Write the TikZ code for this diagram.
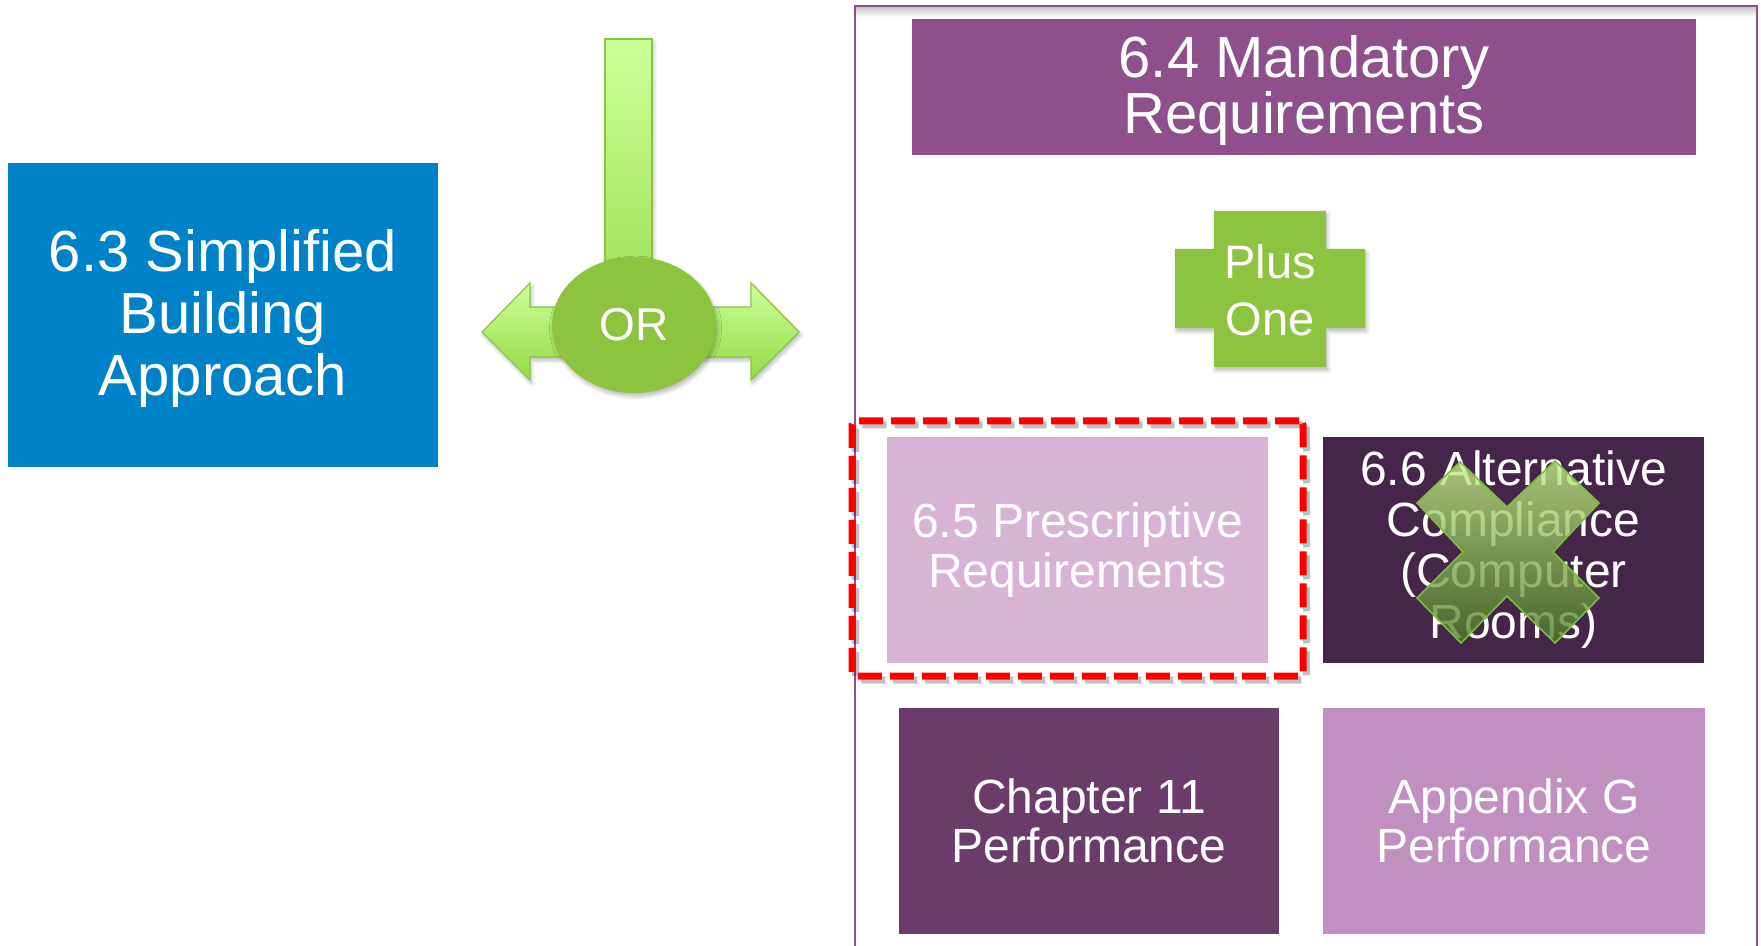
\documentclass[tikz,border=0pt]{standalone}
\usepackage{fontspec}
\setmainfont{Liberation Sans}
\usetikzlibrary{shapes.geometric,shadows.blur}

\definecolor{simpblue}{HTML}{0082C8}
\definecolor{mandpurple}{HTML}{8E4F8C}
\definecolor{presclilac}{HTML}{D7B4D4}
\definecolor{altplum}{HTML}{46254A}
\definecolor{chplum}{HTML}{6B3B69}
\definecolor{appmauve}{HTML}{C290C0}
\definecolor{leaf}{HTML}{8CC43F}
\definecolor{leaflight}{HTML}{CCFF99}
\definecolor{leafmid}{HTML}{94DA45}
\definecolor{leafpale}{HTML}{C4EE88}
\definecolor{leafdark}{HTML}{4A7A24}
\definecolor{leafedge}{HTML}{7DBE3A}
\definecolor{framepurple}{HTML}{8E4F8C}

\begin{document}
\begin{tikzpicture}[x=0.5pt,y=-0.5pt,
  block/.style={rectangle, inner sep=0pt, text=white, align=center},
  softshadow/.style={blur shadow={shadow blur steps=6, shadow xshift=0.8pt,
      shadow yshift=-1.6pt, shadow opacity=28, shadow blur radius=2pt}},
  greenarrow/.style={draw=leaf, line width=0.6pt, top color=leaflight, bottom color=leafmid, softshadow},
  selbox/.style={rectangle, draw=red, line width=3.5pt, dash pattern=on 12pt off 4pt,
      rounded corners=2pt, inner sep=0pt},
  bigtext/.style={font=\fontsize{29}{31}\selectfont},
  midtext/.style={font=\fontsize{24}{25}\selectfont}]

\useasboundingbox (0,0) rectangle (1761,946);

% container for the mandatory path
\shade[top color=black!22, bottom color=white] (856,7) rectangle (1756,17);
\draw[framepurple, line width=1pt] (855,946) -- (855,6) -- (1757,6) -- (1757,946);

% mandatory requirements banner
\node[block, bigtext, font=\fontsize{29}{26.5}\selectfont, fill=mandpurple,
      minimum width=392pt, minimum height=68pt] (mand) at (1304,87)
      {\rule{0pt}{0.85em}6.4 Mandatory\\Requirements};

% "plus one" cross
\path[fill=leaf, softshadow]
  (1214,211) -- (1326,211) -- (1326,249) -- (1365,249) -- (1365,328) -- (1326,328)
  -- (1326,367) -- (1214,367) -- (1214,328) -- (1175,328) -- (1175,249) -- (1214,249) -- cycle;
\node[text=white, align=center, inner sep=0pt, font=\fontsize{23.5}{28.5}\selectfont]
  (plus) at (1270,290) {Plus\\One};

% highlighted prescriptive path
\begin{scope}[xshift=1.8pt, yshift=-2pt]
  \node[selbox, draw=black, opacity=0.25, minimum width=225.5pt, minimum height=127.5pt]
    (selshadow) at (1077.5,548.5) {};
\end{scope}
\node[selbox, minimum width=225.5pt, minimum height=127.5pt] (sel) at (1077.5,548.5) {};

\node[block, midtext, fill=presclilac, minimum width=190.5pt, minimum height=113pt]
  (presc) at (1077.5,550) {6.5 Prescriptive\\Requirements};
\node[block, midtext, font=\fontsize{24}{25.5}\selectfont, fill=altplum,
      minimum width=190.5pt, minimum height=113pt]
  (alt) at (1513.5,550) {6.6 Alternative\\Compliance\\(Computer\\Rooms)};

% cross-out mark over the alternative path
\path[draw=leafedge, line width=0.8pt, top color=leafpale, bottom color=leafdark, fill opacity=0.78]
  (1460,462) -- (1507,507) -- (1555,461) -- (1599,503) -- (1553,552) -- (1599,598)
  -- (1555,643) -- (1507,596) -- (1461,643) -- (1417,598) -- (1463,552) -- (1417,503) -- cycle;

% performance paths
\node[block, midtext, font=\fontsize{24}{24.5}\selectfont, fill=chplum,
      minimum width=190pt, minimum height=113pt]
  (ch11) at (1089,821) {Chapter 11\\Performance};
\node[block, midtext, font=\fontsize{24}{24.5}\selectfont, fill=appmauve,
      minimum width=191pt, minimum height=113pt]
  (appg) at (1514,821) {Appendix G\\Performance};

% simplified approach
\node[block, bigtext, fill=simpblue, minimum width=215pt, minimum height=152pt]
  (simp) at (223,315) {\rule{0pt}{0.83em}6.3 Simplified\\Building\\Approach};

% "or" branching arrow
\path[greenarrow, bottom color=leafmid!80!leaflight] (605,39) rectangle (652,300);
\path[greenarrow]
  (482,332) -- (530,283) -- (530,307) -- (751,307) -- (751,283) -- (799,332)
  -- (751,380) -- (751,357) -- (530,357) -- (530,380) -- cycle;
\node[ellipse, fill=leaf, minimum width=82pt, minimum height=68pt, inner sep=0pt,
      text=white, font=\fontsize{23}{23}\selectfont, softshadow]
  (or) at (634,325) {OR};

\end{tikzpicture}
\end{document}
